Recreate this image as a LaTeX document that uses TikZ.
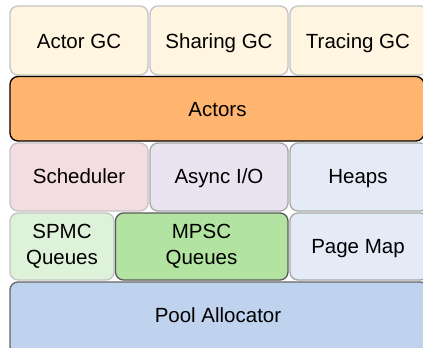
\documentclass[tikz,border=0pt]{standalone}
\usepackage{fontspec}
\setmainfont{Liberation Sans}
\definecolor{gcfill}{HTML}{FFF5E0}
\definecolor{gcdraw}{HTML}{C4C4C4}
\definecolor{actfill}{HTML}{FFB570}
\definecolor{schfill}{HTML}{F3DDE0}
\definecolor{asyfill}{HTML}{E9E4F0}
\definecolor{heapfill}{HTML}{E4EBF6}
\definecolor{spmcfill}{HTML}{DEF2D9}
\definecolor{mpscfill}{HTML}{B2E3A0}
\definecolor{poolfill}{HTML}{BFD2EE}
\definecolor{midgray}{HTML}{A8A8A8}
\begin{document}
\begin{tikzpicture}[x=1pt,y=-1pt,
  blk/.style={draw=midgray,line width=1.3pt,rounded corners=8pt},
  lbl/.style={font=\fontsize{20.5}{26}\selectfont,align=center,inner sep=0pt},
  lb/.style={lbl,anchor=base}]
\useasboundingbox (0,0) rectangle (423,348);
\fill[white] (0,0) rectangle (423,348);
\begin{scope}
\clip (0,0) rectangle (423,348);
% row 1
\draw[blk,draw=gcdraw,fill=gcfill] (10,6) rectangle (148,75);
\draw[blk,draw=gcdraw,fill=gcfill] (150,6) rectangle (288,75);
\draw[blk,draw=gcdraw,fill=gcfill] (290,6) rectangle (428,75);
% actors
\draw[blk,draw=black,fill=actfill] (10,76.5) rectangle (424,141);
% row 3
\draw[blk,draw=gcdraw,fill=schfill] (10,143) rectangle (148,211);
\draw[blk,fill=asyfill] (150,143) rectangle (288,211);
\draw[blk,fill=heapfill] (290,143) rectangle (428,211);
% row 4
\draw[blk,draw=gcdraw,fill=spmcfill] (10,213) rectangle (114,280);
\draw[blk,draw=black!65,fill=mpscfill] (115.5,213) rectangle (288,280);
\draw[blk,fill=heapfill] (290,213) rectangle (428,280);
% pool
\draw[blk,draw=black!60,fill=poolfill] (10,282) rectangle (428,354);
\end{scope}
\node[lb] (agc) at (79,48) {Actor GC};
\node[lb] (sgc) at (219,48) {Sharing GC};
\node[lb] (tgc) at (358,48) {Tracing GC};
\node[lb] (act) at (217.5,116) {Actors};
\node[lb] (sch) at (79,183) {Scheduler};
\node[lb] (aio) at (219,183) {Async I/O};
\node[lb] (hp) at (358,183) {Heaps};
\node[lbl] (spmc) at (62,246) {SPMC\\Queues};
\node[lbl] (mpsc) at (201.5,246) {MPSC\\Queues};
\node[lb] (pm) at (358,253) {Page Map};
\node[lb] (pool) at (218,322) {Pool Allocator};
\end{tikzpicture}
\end{document}
